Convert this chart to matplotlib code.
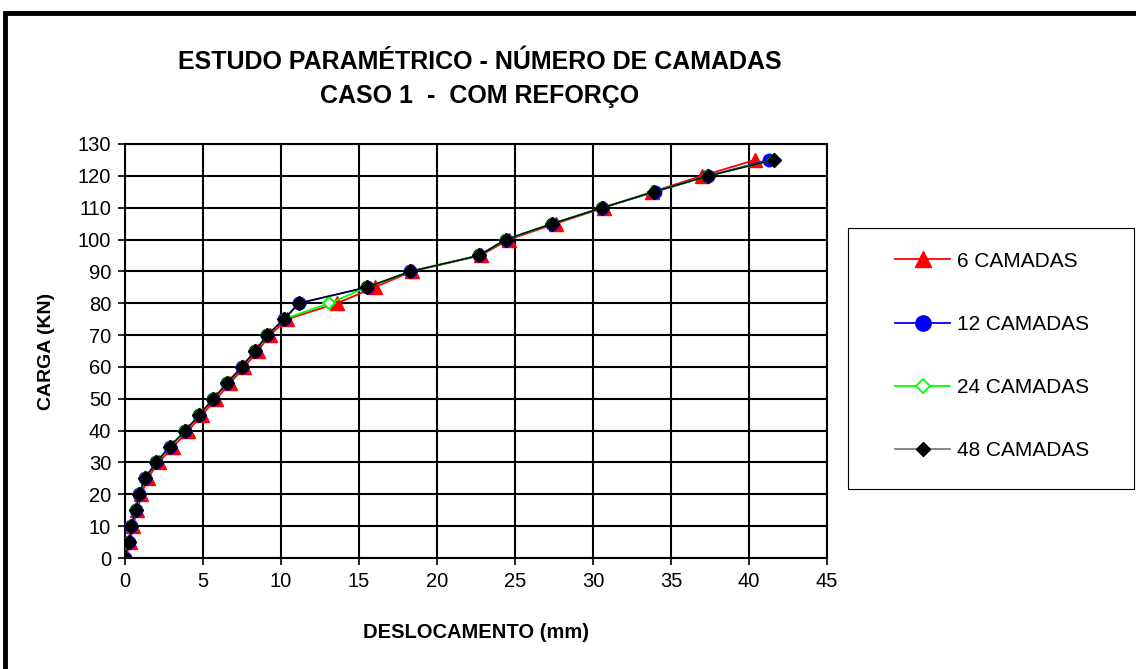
import numpy as np
import matplotlib
matplotlib.use('Agg')
import matplotlib.pyplot as plt
from matplotlib.lines import Line2D
from matplotlib.patches import Rectangle

# Dados (carga em kN, deslocamento em mm)
carga = [0, 5, 10, 15, 20, 25, 30, 35, 40, 45, 50, 55, 60, 65,
         70, 75, 80, 85, 90, 95, 100, 105, 110, 115, 120, 125]

desl_6 = [0.05, 0.35, 0.5, 0.8, 1.05, 1.45, 2.15, 3.1, 4.05, 4.95, 5.85, 6.75, 7.65, 8.5,
          9.3, 10.4, 13.6, 16.0, 18.4, 22.8, 24.6, 27.6, 30.7, 33.8, 37.0, 40.4]
desl_12 = [0, 0.28, 0.4, 0.68, 0.92, 1.28, 1.99, 2.88, 3.87, 4.77, 5.66, 6.56, 7.48, 8.33,
           9.12, 10.2, 11.15, 15.5, 18.3, 22.7, 24.4, 27.4, 30.6, 34.0, 37.4, 41.3]
desl_24 = [0, 0.28, 0.4, 0.68, 0.92, 1.28, 1.99, 2.88, 3.87, 4.77, 5.66, 6.56, 7.48, 8.33,
           9.12, 10.2, 13.1, 15.5, 18.3, 22.7, 24.4, 27.4, 30.6, 33.9, 37.4, 41.6]
desl_48 = [0, 0.28, 0.4, 0.68, 0.92, 1.28, 1.99, 2.88, 3.87, 4.77, 5.66, 6.56, 7.48, 8.33,
           9.12, 10.2, 11.15, 15.5, 18.3, 22.7, 24.4, 27.4, 30.6, 33.9, 37.4, 41.6]

nomes = ['6 CAMADAS', '12 CAMADAS', '24 CAMADAS', '48 CAMADAS']

plt.rcParams['font.family'] = ['Liberation Sans', 'DejaVu Sans']

fig = plt.figure(figsize=(11.36, 6.69), dpi=100)
ax = fig.add_axes([125 / 1136, 1 - 558 / 669, 702 / 1136, 414 / 669])

ax.plot(desl_6, carga, color='red', marker='^', ms=9.5, lw=1.3, zorder=3)
ax.plot(desl_12, carga, color='blue', marker='o', ms=9, lw=1.3, zorder=4)
ax.plot(desl_24, carga, color='#00ff00', marker='D', ms=6.5, mfc='white', mew=1.5, lw=1.3, zorder=5)
ax.plot(desl_48, carga, color='black', marker='D', ms=7, lw=1.0, zorder=6)

ax.set_xlim(0, 45)
ax.set_ylim(0, 130)
ax.set_xticks(np.arange(0, 46, 5))
ax.set_yticks(np.arange(0, 131, 10))
ax.grid(True, color='black', lw=1.5)
ax.set_axisbelow(True)
for s in ax.spines.values():
    s.set_linewidth(1.5)
ax.tick_params(labelsize=14.5, direction='out', length=5, width=1.2, pad=5)
ax.set_xlabel('DESLOCAMENTO (mm)', fontsize=14.5, fontweight='bold', labelpad=23)
ax.set_ylabel('CARGA (KN)', fontsize=14, fontweight='bold', labelpad=16)

fig.text(0.4225, 1 - 62 / 669, 'ESTUDO PARAMÉTRICO - NÚMERO DE CAMADAS', ha='center', va='center',
         fontsize=18, fontweight='bold')
fig.text(0.4225, 1 - 96 / 669, 'CASO 1  -  COM REFORÇO', ha='center', va='center',
         fontsize=18, fontweight='bold')

# legenda
hs = [Line2D([], [], color='red', marker='^', ms=11, lw=1.3),
      Line2D([], [], color='blue', marker='o', ms=11, lw=1.3),
      Line2D([], [], color='#00ff00', marker='D', ms=7, mfc='white', mew=1.3, lw=1.3),
      Line2D([], [], color='#808080', marker='D', ms=7, mfc='black', mec='black', lw=1.3)]
fig.legend(hs, nomes, loc='center left', bbox_to_anchor=(895 / 1136, 1 - 356 / 669),
           frameon=False, fontsize=15, labelspacing=2.12, handlelength=2.65,
           handletextpad=0.32, borderpad=0, borderaxespad=0)
fig.patches.append(Rectangle((848 / 1136, 1 - 489 / 669), 286 / 1136, 261 / 669,
                             transform=fig.transFigure, fill=False, ec='black', lw=0.8))

# moldura
fig.patches.append(Rectangle((5.3 / 1136, -0.1), 1.2, 1.1 - 13.5 / 669,
                             transform=fig.transFigure, fill=False, ec='black', lw=3.5))

fig.savefig('out.png', dpi=100)
